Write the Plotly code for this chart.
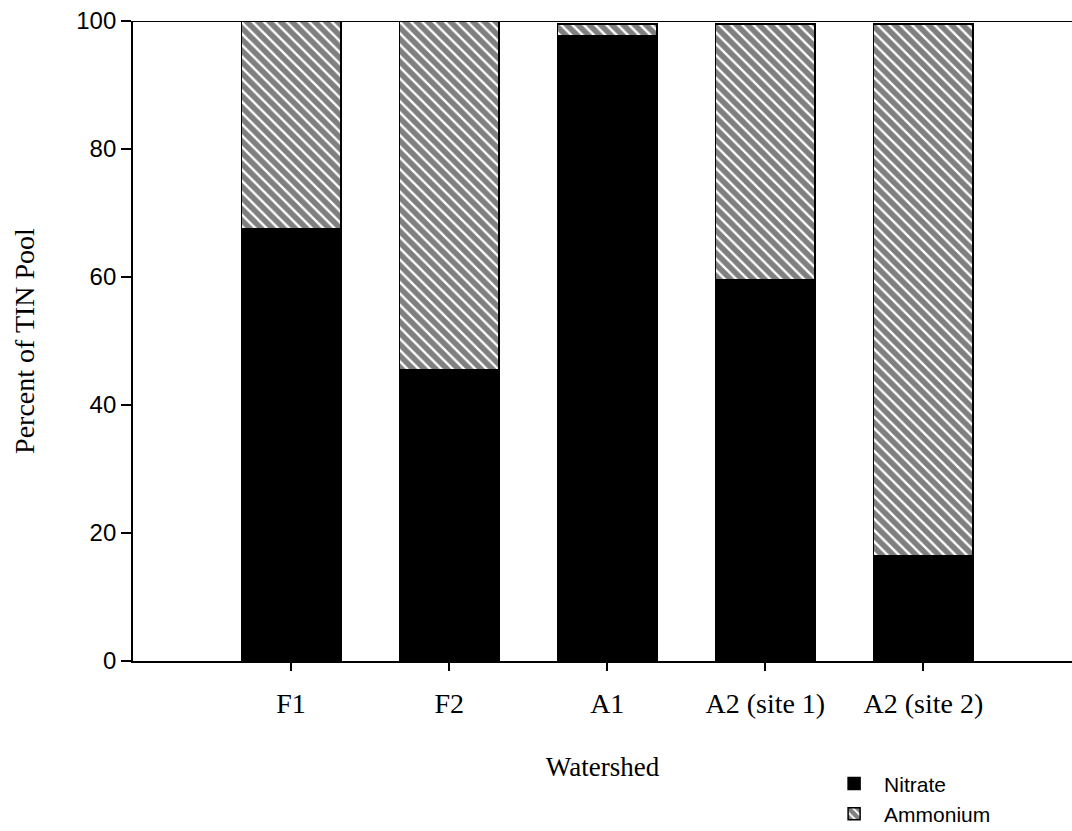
import plotly.graph_objects as go

watersheds = ["F1", "F2", "A1", "A2 (site 1)", "A2 (site 2)"]
nitrate = [67.5, 45.5, 97.7, 59.5, 16.5]
ammonium = [32.5, 54.5, 1.8, 40.0, 83.0]
y_ticks = [0, 20, 40, 60, 80, 100]

serif = "Times New Roman, Liberation Serif, serif"
sans = "Arial, Liberation Sans, sans-serif"

fig = go.Figure()
fig.add_trace(go.Bar(
    x=watersheds, y=nitrate, name="Nitrate",
    marker=dict(color="black", line=dict(color="black", width=1.5)),
    width=0.63,
))
fig.add_trace(go.Bar(
    x=watersheds, y=ammonium, name="Ammonium",
    marker=dict(color="white", line=dict(color="black", width=1.5),
                pattern=dict(shape="\\", fgcolor="black", bgcolor="white",
                             size=8, solidity=0.7)),
    width=0.63,
))

fig.update_layout(
    barmode="stack",
    width=1072, height=831,
    margin=dict(l=133, r=0, t=21, b=170, autoexpand=False),
    plot_bgcolor="white", paper_bgcolor="white",
    showlegend=True,
    legend=dict(x=0.736, y=-0.16, xanchor="left", yanchor="top",
                font=dict(family=sans, size=21, color="black"),
                traceorder="normal", itemwidth=50, tracegroupgap=0,
                bgcolor="rgba(0,0,0,0)"),
    xaxis=dict(
        range=[-1, 4.94], showline=True, linecolor="black", linewidth=1.8,
        ticks="outside", ticklen=8, tickcolor="black", tickwidth=1.5,
        tickfont=dict(family=serif, size=28, color="black"),
        ticklabelstandoff=8,
        title=dict(text="Watershed", font=dict(family=serif, size=27, color="black"),
                   standoff=40),
        showgrid=False, zeroline=False, automargin=False,
    ),
    yaxis=dict(
        range=[0, 100], tickvals=y_ticks, showline=True, linecolor="black",
        linewidth=1.8, ticks="outside", ticklen=10, tickcolor="black", tickwidth=1.5,
        tickfont=dict(family=sans, size=24, color="black"),
        title=dict(text="Percent of TIN Pool",
                   font=dict(family=serif, size=28, color="black"), standoff=33),
        showgrid=False, zeroline=False, automargin=False,
    ),
    shapes=[dict(type="line", xref="paper", yref="y", x0=-0.004, x1=1, y0=100, y1=100,
                 line=dict(color="black", width=1.8))],
)

fig.write_html("out.html", config={"displayModeBar": False},
               post_script="document.body.style.margin='0px';document.body.style.overflow='hidden';")
